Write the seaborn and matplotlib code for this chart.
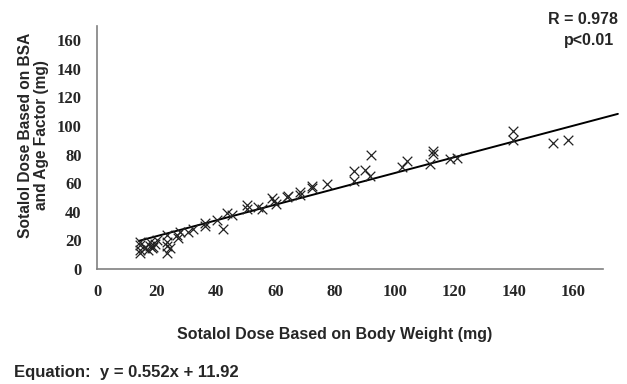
import numpy as np
import pandas as pd
import matplotlib
matplotlib.use("Agg")
import matplotlib.pyplot as plt
import seaborn as sns

# Doses (mg)
weight_dose = [14.4, 14.4, 14.4, 14.6, 16.1, 17.2, 17.8, 18.4, 18.8, 17.8, 19.5, 20.2,
               23.4, 23.4, 23.4, 23.4, 24.5, 26.8, 27.3, 27.9, 30.6, 32.4, 36.3, 36.3,
               40.2, 42.4, 43.6, 45.3, 50.3, 50.3, 54.2, 55.5, 58.7, 59.5, 60.0, 63.8,
               64.3, 68.2, 68.2, 72.2, 72.2, 77.2, 86.2, 86.2, 90.1, 91.8, 92.0, 102.4,
               104.1, 112.0, 113.0, 113.0, 118.7, 120.9, 139.9, 139.9, 153.2, 158.2]
bsa_dose = [19.1, 13.3, 11.0, 16.5, 14.7, 13.3, 19.1, 14.7, 15.4, 16.0, 17.5, 20.5,
            23.8, 19.1, 16.0, 11.0, 14.7, 23.8, 21.7, 26.1, 26.1, 28.0, 32.5, 30.0,
            34.3, 28.0, 39.2, 37.8, 44.8, 41.9, 43.4, 42.0, 49.8, 47.5, 45.3, 50.7,
            51.0, 51.9, 54.2, 56.5, 58.0, 59.3, 61.7, 68.9, 69.4, 65.2, 79.9, 71.3,
            75.9, 73.6, 80.6, 82.9, 77.3, 78.0, 96.2, 90.4, 88.1, 90.4]

slope = 0.552
intercept = 11.92
fit_range = [14, 175]

df = pd.DataFrame({"weight": weight_dose, "bsa": bsa_dose})
fit = pd.DataFrame({"x": fit_range})
fit["y"] = slope * fit["x"] + intercept

sns.set_style("white")
fig = plt.figure(figsize=(6.27, 3.84), dpi=100)
ax = fig.add_axes([97/627, 1 - 269/384, (603-97)/627, (269-26)/384])

sns.scatterplot(data=df, x="weight", y="bsa", marker="x", color="#222222",
                s=48, linewidth=0.9, ax=ax, zorder=3)
sns.lineplot(data=fit, x="x", y="y", color="black", linewidth=1.4, ax=ax,
             clip_on=False)

ax.set_xlim(0, 170)
ax.set_ylim(0, 170)
ax.set_xticks(range(0, 161, 20))
ax.set_yticks(range(0, 161, 20))
for s in ["top", "right"]:
    ax.spines[s].set_visible(False)
for s in ["left", "bottom"]:
    ax.spines[s].set_color("#808080")
    ax.spines[s].set_linewidth(1.2)
ax.tick_params(direction="out", length=4, width=1, color="#555555", pad=7)
tick_font = {"family": "Liberation Serif", "weight": "bold", "size": 12}
ax.set_xticklabels([str(v) for v in range(0, 161, 20)], fontdict=tick_font)
ax.set_yticklabels([str(v) for v in range(0, 161, 20)], fontdict=tick_font)

lab_font = {"family": "Liberation Sans", "weight": "bold", "size": 11.5}
ax.set_xlabel("Sotalol Dose Based on Body Weight (mg)", fontdict=lab_font)
ax.xaxis.set_label_coords((335-97)/506, (269-327)/243)
ax.set_ylabel("Sotalol Dose Based on BSA\nand Age Factor (mg)",
              family="Liberation Sans", weight="bold", size=11.2, linespacing=1.1)
ax.yaxis.set_label_coords((49-97)/506, (269-135)/243)

fig.text(583/627, 1 - 19/384, "R = 0.978", ha="center", va="center", **lab_font)
fig.text(589/627, 1 - 41/384, "p<0.01", ha="center", va="center", **lab_font)
fig.text(14/627, 1 - 372/384, "Equation:  y = 0.552x + 11.92", ha="left",
         va="center", family="Liberation Sans", weight="bold", size=12)

fig.savefig("out.png", dpi=100)
